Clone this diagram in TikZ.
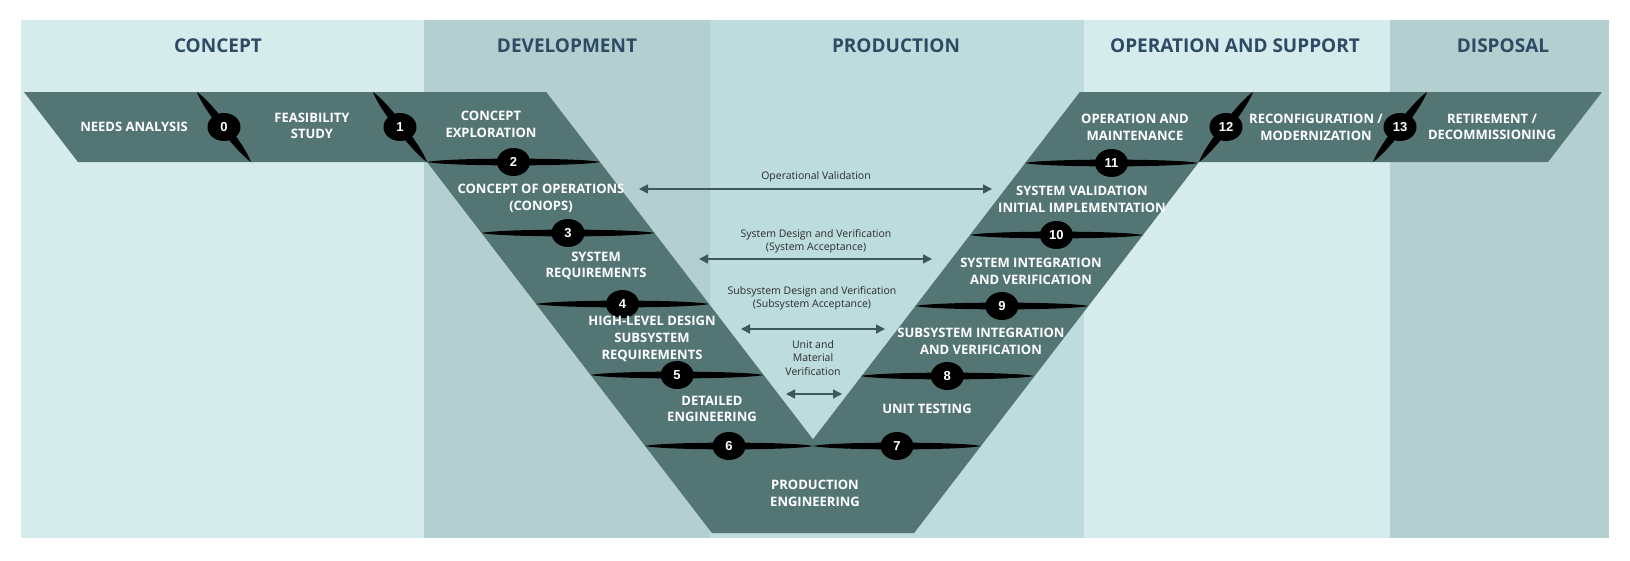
\documentclass[tikz,border=0pt]{standalone}
\usepackage{fontspec}
\setmainfont{Open Sans}
\newfontfamily\numfont{Liberation Sans}
\usetikzlibrary{arrows.meta,shapes.geometric,calc}

\definecolor{bgA}{HTML}{D6ECEC}
\definecolor{bgB}{HTML}{B4CFD0}
\definecolor{bgC}{HTML}{BDDCDD}
\definecolor{bandc}{HTML}{537675}
\definecolor{hdr}{HTML}{2E4A64}
\definecolor{arr}{HTML}{3E5759}
\definecolor{lbl}{HTML}{2B2B2B}

\newcommand\lens[4]{\fill[black] (#1) .. controls ($(#1)!#4!(#2)!#3!90:(#2)$) and ($(#2)!#4!(#1)!#3!-90:(#1)$) .. (#2) .. controls ($(#2)!#4!(#1)!#3!90:(#1)$) and ($(#1)!#4!(#2)!#3!-90:(#2)$) .. (#1) -- cycle;}

\begin{document}
\begin{tikzpicture}[x=1pt,y=-1pt,
 hdrtext/.style={font=\fontsize{19}{22}\selectfont\bfseries, text=hdr, inner sep=0},
 bandtext/.style={font=\fontsize{13}{16.7}\selectfont\bfseries, text=white, align=center, inner sep=0},
 lbltext/.style={font=\fontsize{10.5}{13.3}\selectfont, text=lbl, align=center, inner sep=0},
 numnode/.style={ellipse, fill=black, minimum width=33pt, minimum height=28pt, inner sep=0, font=\numfont\fontsize{13}{13}\selectfont\bfseries, text=white},
 twoway/.style={draw=arr, line width=1.5pt, {Triangle[length=9pt,width=9pt]}-{Triangle[length=9pt,width=9pt]}},
]
\useasboundingbox (0,0) rectangle (1630,560);
\fill[white] (0,0) rectangle (1630,560);
% columns
\fill[bgA] (21,20) rectangle (424,538);
\fill[bgB] (424,20) rectangle (710,538);
\fill[bgC] (710,20) rectangle (1084,538);
\fill[bgA] (1084,20) rectangle (1390,538);
\fill[bgB] (1390,20) rectangle (1609,538);
% headers
\node[hdrtext] (hconcept) at (218,46) {CONCEPT};
\node[hdrtext] (hdev) at (567,46) {DEVELOPMENT};
\node[hdrtext] (hprod) at (896,46) {PRODUCTION};
\node[hdrtext] (hops) at (1235,46) {OPERATION AND SUPPORT};
\node[hdrtext] (hdisp) at (1503,46) {DISPOSAL};
% band
\fill[bandc] (24,92) -- (546.2,92) -- (813,439.3) -- (1079.8,92) -- (1602,92) -- (1548,162) -- (1199,162) -- (914.1,533) -- (711.9,533) -- (427,162) -- (78,162) -- cycle;
% propeller ends
\coordinate (p0a) at (197,92);   \coordinate (p0b) at (251,162);
\coordinate (p1a) at (373,92);   \coordinate (p1b) at (427,162);
\coordinate (p2a) at (427,162);  \coordinate (p2b) at (600,162);
\coordinate (p3a) at (481.5,233); \coordinate (p3b) at (654.5,233);
\coordinate (p4a) at (536,304);  \coordinate (p4b) at (709,304);
\coordinate (p5a) at (590.6,375); \coordinate (p5b) at (763.6,375);
\coordinate (p6a) at (645.1,446); \coordinate (p6b) at (813,446);
\coordinate (p7a) at (813,446);  \coordinate (p7b) at (980.9,446);
\coordinate (p8a) at (860.8,376); \coordinate (p8b) at (1033.8,376);
\coordinate (p9a) at (915.4,306); \coordinate (p9b) at (1088.4,306);
\coordinate (p10a) at (969.9,235); \coordinate (p10b) at (1142.9,235);
\coordinate (p11a) at (1025,163); \coordinate (p11b) at (1198,163);
\coordinate (p12a) at (1253,92); \coordinate (p12b) at (1199,162);
\coordinate (p13a) at (1427,92); \coordinate (p13b) at (1373,162);
\foreach \i in {2,...,11} {\lens{p\i a}{p\i b}{4.5pt}{0.12}}
\foreach \i in {0,1,12,13} {\lens{p\i a}{p\i b}{5.5pt}{0.18}}
\foreach \i in {0,...,13} {\node[numnode] (n\i) at ($(p\i a)!0.5!(p\i b)$) {\i};}
% band texts
\node[bandtext] (t0) at (134,127) {NEEDS ANALYSIS};
\node[bandtext] (t1) at (312,126) {FEASIBILITY\\STUDY};
\node[bandtext] (t2) at (491,124) {CONCEPT\\EXPLORATION};
\node[bandtext] (t3) at (541,198) {CONCEPT OF OPERATIONS\\(CONOPS)};
\node[bandtext] (t4) at (596,266) {SYSTEM\\REQUIREMENTS};
\node[bandtext] (t5) at (652,339) {HIGH-LEVEL DESIGN\\SUBSYSTEM\\REQUIREMENTS};
\node[bandtext] (t6) at (712,409) {DETAILED\\ENGINEERING};
\node[bandtext] (t7) at (815,493) {PRODUCTION\\ENGINEERING};
\node[bandtext] (t8) at (927,409) {UNIT TESTING};
\node[bandtext] (t9) at (981,341) {SUBSYSTEM INTEGRATION\\AND VERIFICATION};
\node[bandtext] (t10) at (1031,271) {SYSTEM INTEGRATION\\AND VERIFICATION};
\node[bandtext] (t11) at (1082,199) {SYSTEM VALIDATION\\INITIAL IMPLEMENTATION};
\node[bandtext] (t12) at (1135,127) {OPERATION AND\\MAINTENANCE};
\node[bandtext] (t13) at (1316,127) {RECONFIGURATION /\\MODERNIZATION};
\node[bandtext] (t14) at (1492,127) {RETIREMENT /\\DECOMMISSIONING};
% arrows
\coordinate (a1l) at (639,189); \coordinate (a1r) at (992,189);
\coordinate (a2l) at (699,259); \coordinate (a2r) at (932,259);
\coordinate (a3l) at (741,329); \coordinate (a3r) at (885,329);
\coordinate (a4l) at (786,394); \coordinate (a4r) at (842,394);
\draw[twoway] (a1l) -- (a1r);
\draw[twoway] (a2l) -- (a2r);
\draw[twoway] (a3l) -- (a3r);
\draw[twoway] (a4l) -- (a4r);
\node[lbltext] (l1) at (816,177) {Operational Validation};
\node[lbltext] (l2) at (816,241) {System Design and Verification\\(System Acceptance)};
\node[lbltext] (l3) at (812,298) {Subsystem Design and Verification\\(Subsystem Acceptance)};
\node[lbltext] (l4) at (813,358) {Unit and\\Material\\Verification};
\end{tikzpicture}
\end{document}
